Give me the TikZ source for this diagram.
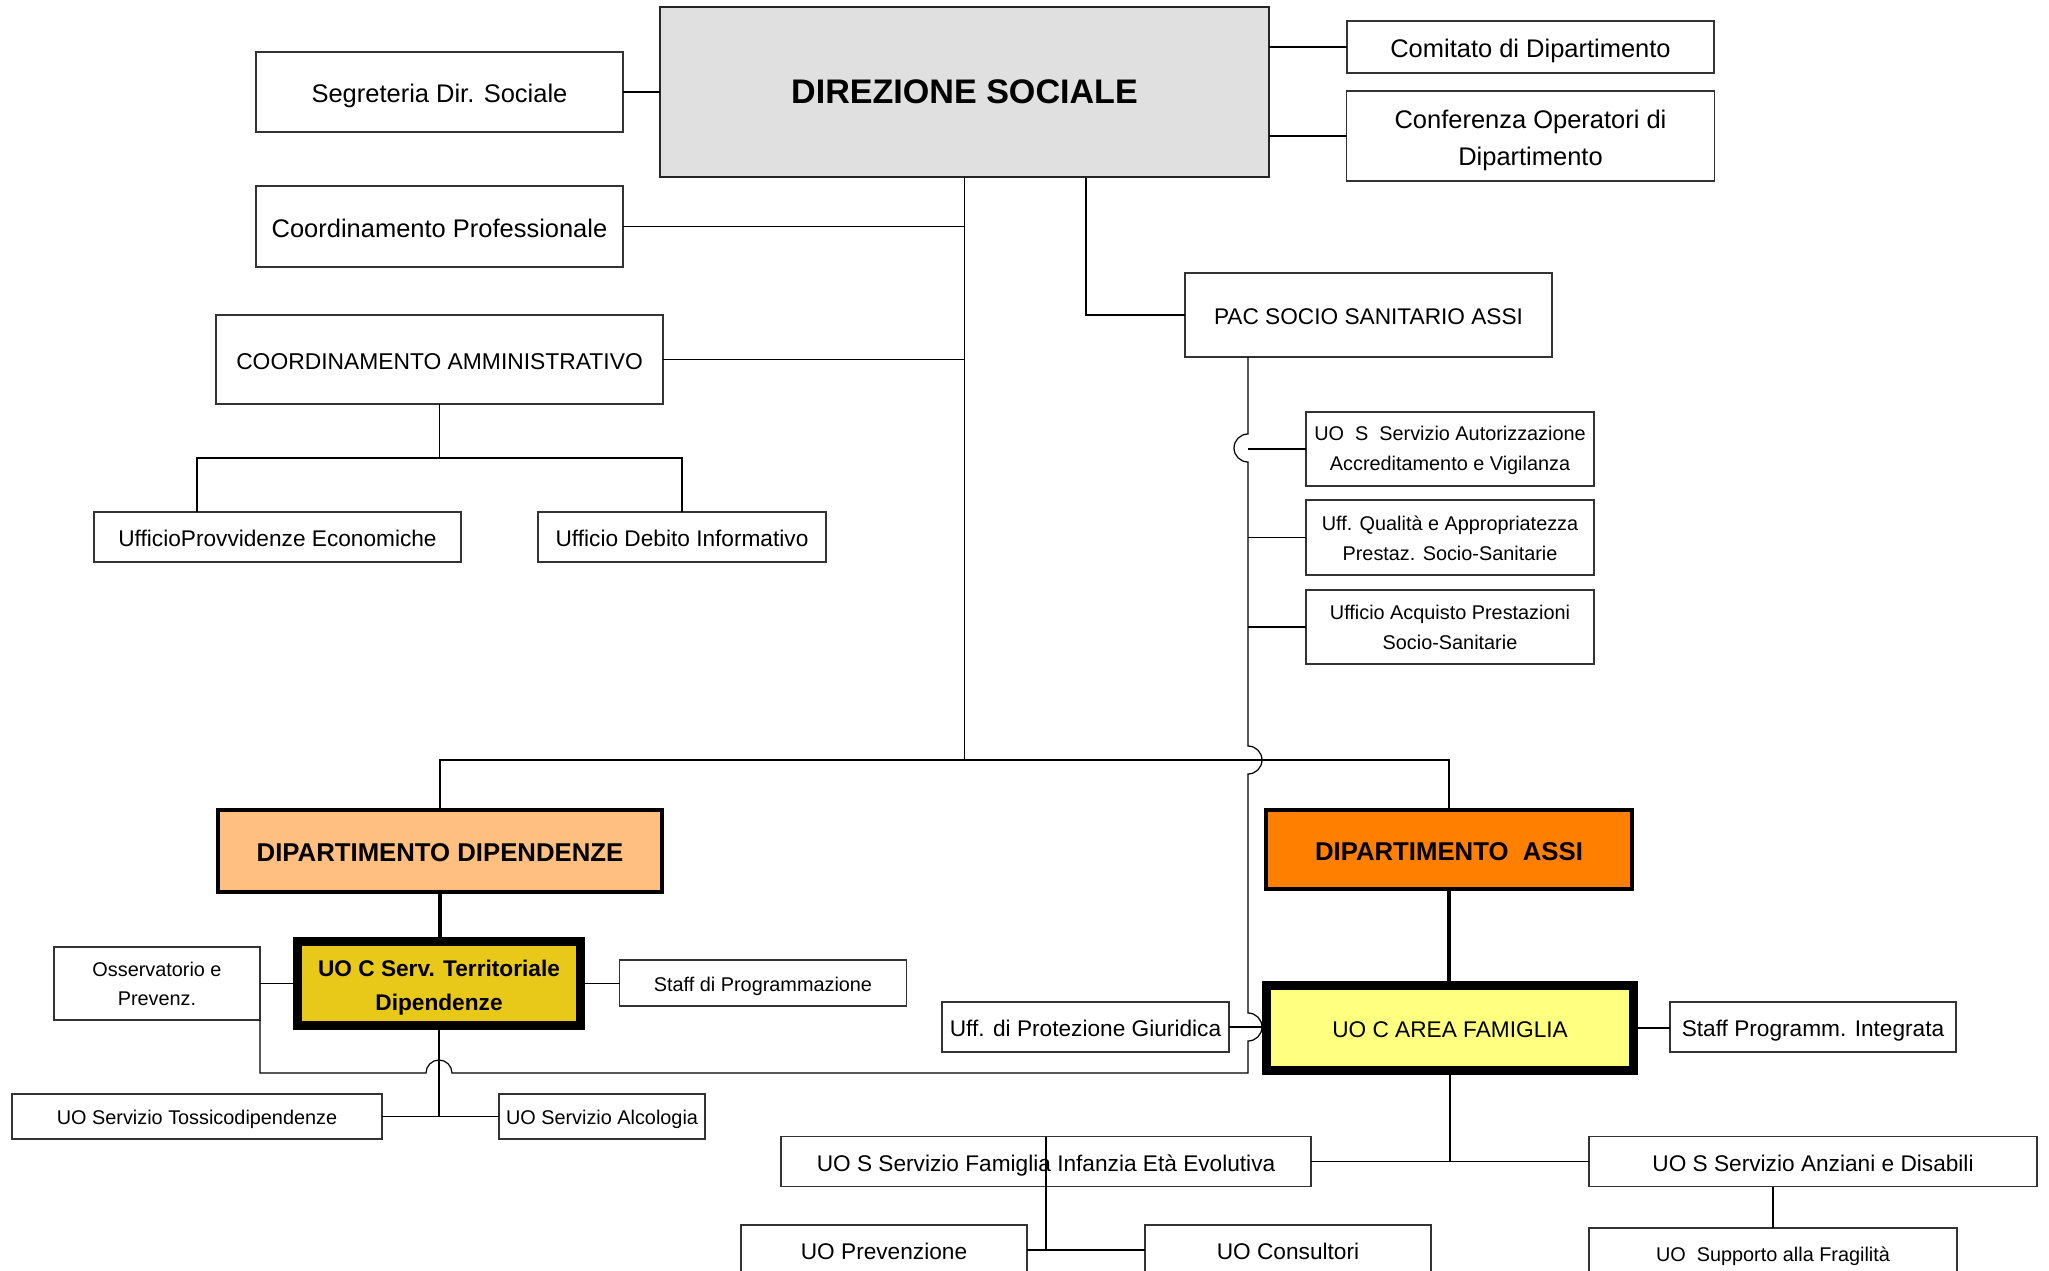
\documentclass[tikz,border=0pt]{standalone}
\usepackage{fontspec}
\setmainfont{Liberation Sans}
\usetikzlibrary{positioning}
\definecolor{dirgray}{RGB}{224,224,224}
\definecolor{dipdipfill}{RGB}{255,191,128}
\definecolor{dipassifill}{RGB}{255,128,0}
\definecolor{uocservfill}{RGB}{232,200,24}
\definecolor{uocfamfill}{RGB}{255,255,128}
\newcommand{\txtL}{\fontsize{14.5}{21}\selectfont}
\newcommand{\txtM}{\fontsize{12.9}{19}\selectfont}
\newcommand{\txtS}{\fontsize{11.3}{17}\selectfont}

\begin{document}
\begin{tikzpicture}[x=0.02cm, y=-0.02cm]
    % Define block styles
    \tikzstyle{block} = [rectangle, draw=black!80, fill=white, line width=0.7pt, inner sep=0pt, outer sep=0pt, align=center]
    \tikzstyle{blockL} = [block, font=\txtL, text height=15.2pt, text depth=2.9pt]
    \tikzstyle{blockM} = [block, font=\txtM, text height=13.5pt, text depth=2.6pt]
    \tikzstyle{blockS} = [block, font=\txtS, text height=11.9pt, text depth=2.3pt]
    \tikzstyle{dept} = [block, draw=black, line width=2.3pt, font=\bfseries\fontsize{14.65}{17}\selectfont, text height=15.4pt, text depth=2.9pt]
    \tikzstyle{unit} = [block, draw=black, line width=5.1pt]
    \tikzstyle{line} = [-, line width=0.7pt]
    \tikzstyle{trunk} = [-, line width=1.8pt]
    \tikzset{boxsize/.style 2 args={minimum width=#1*0.02cm, minimum height=#2*0.02cm}}
    \useasboundingbox (0,0) rectangle (2049,1271);
    \clip (0,0) rectangle (2049,1271);

    % Blocks and nodes
    \node [block, boxsize={609}{170}, fill=dirgray, draw=black!85, font=\bfseries\fontsize{19.4}{24}\selectfont] (dir) at (964.5,92) {DIREZIONE SOCIALE};
    \node [blockL, boxsize={367}{80}] (segr) at (439.5,92) {Segreteria Dir. Sociale};
    \node [blockL, boxsize={367}{81}] (coordprof) at (439.5,226.5) {Coordinamento Professionale};
    \node [blockM, boxsize={447}{89}, font=\fontsize{13}{15}\selectfont] (coordamm) at (439.5,359.5) {COORDINAMENTO AMMINISTRATIVO};
    \node [blockM, boxsize={367}{50}] (provv) at (277.5,537) {UfficioProvvidenze Economiche};
    \node [blockM, boxsize={288}{50}] (debito) at (682,537) {Ufficio Debito Informativo};
    \node [blockL, boxsize={367}{52}] (comitato) at (1530.5,47) {Comitato di Dipartimento};
    \node [block, boxsize={368}{90}, font=\txtL, below=0.36cm of comitato] (conferenza) {\rule{0pt}{15.2pt}Conferenza Operatori di\\Dipartimento};
    \node [blockM, boxsize={367}{84}] (pac) at (1368.5,315) {PAC SOCIO SANITARIO ASSI};
    \node [block, boxsize={288}{74}, font=\txtS] (autoriz) at (1450,449) {\rule{0pt}{9.7pt}UO\ \ S\ \ Servizio Autorizzazione\\Accreditamento e Vigilanza};
    \node [block, boxsize={288}{75}, font=\txtS, below=0.28cm of autoriz] (qualita) {\rule{0pt}{9.7pt}Uff. Qualità e Appropriatezza\\Prestaz. Socio-Sanitarie};
    \node [block, boxsize={288}{74}, font=\txtS, below=0.3cm of qualita] (acquisto) {Ufficio Acquisto Prestazioni\\Socio-Sanitarie};

    \node [dept, boxsize={444}{82}, fill=dipdipfill] (dipdip) at (440,851) {DIPARTIMENTO DIPENDENZE};
    \node [dept, boxsize={366}{79}, fill=dipassifill] (dipassi) at (1449,849.5) {DIPARTIMENTO\ \ ASSI};
    \node [unit, boxsize={283}{84}, fill=uocservfill, font=\bfseries\fontsize{12.9}{19.3}\selectfont] (uocserv) at (439,983.5) {\rule{0pt}{14pt}UO C Serv. Territoriale\\Dipendenze};
    \node [block, boxsize={206}{73}, font=\fontsize{11.3}{16.4}\selectfont] (osserv) at (157,983.5) {Osservatorio e\\Prevenz.};
    \node [blockS, boxsize={287}{46}] (staffprog) at (763,983) {Staff di Programmazione};
    \node [blockS, boxsize={370}{45}] (tossico) at (197,1116.5) {UO Servizio Tossicodipendenze};
    \node [blockS, boxsize={206}{45}] (alcol) at (602,1116.5) {UO Servizio Alcologia};
    \node [blockM, boxsize={287}{50}] (protez) at (1085.5,1027) {Uff. di Protezione Giuridica};
    \node [unit, boxsize={367}{85}, fill=uocfamfill, font=\txtM, text height=13.5pt, text depth=2.6pt] (uocfam) at (1450,1028) {UO C AREA FAMIGLIA};
    \node [blockM, boxsize={286}{50}] (staffint) at (1813,1027) {Staff Programm. Integrata};
    \node [blockM, boxsize={530}{50}] (famiglia) at (1046,1161.5) {UO S Servizio Famiglia Infanzia Età Evolutiva};
    \node [blockM, boxsize={448}{50}] (anziani) at (1813,1161.5) {UO S Servizio Anziani e Disabili};
    \node [blockM, boxsize={286}{50}] (prevenz) at (884,1250) {UO Prevenzione};
    \node [blockM, boxsize={286}{50}] (consult) at (1288,1250) {UO Consultori};
    \node [blockS, boxsize={368}{50}] (fragil) at (1773,1253) {UO\ \ Supporto alla Fragilità};

    \coordinate (hub) at (964.5,760);
    \coordinate (pactap) at (1086,178);
    \coordinate (pactrunk) at (1248,357);
    \coordinate (ammbus) at (439.5,458);
    \coordinate (provvtap) at (197,512);

    % Connections
    \draw[line] (segr.east) -- (segr.east -| dir.west);
    \draw[line] (comitato.west) -- (comitato.west -| dir.east);
    \draw[line] (conferenza.west) -- (conferenza.west -| dir.east);
    \draw[line] (dir.south) -- (hub);
    \draw[line] (coordprof.east) -- (coordprof.east -| hub);
    \draw[line] (coordamm.east) -- (coordamm.east -| hub);
    \draw[line] (pactap) |- (pac.west);
    \draw[line] (coordamm.south) -- (ammbus);
    \draw[line] (provvtap) |- (ammbus) -| (debito.north);
    \draw[line] (dipdip.north) |- (hub) -| (dipassi.north);
    \draw[trunk] (dipdip.south) -- (dipdip.south |- uocserv.north);
    \draw[trunk] (dipassi.south) -- (dipassi.south |- uocfam.north);
    \draw[line] (osserv.east) -- (uocserv.west);
    \draw[line] (uocserv.east) -- (uocserv.east -| staffprog.west);
    \draw[line] (uocserv.south) -- (uocserv.south |- tossico.east);
    \draw[line] (tossico.east) -- (alcol.west);
    \draw[line] (protez.east) -- (protez.east -| uocfam.west);
    \draw[line] (uocfam.east) -- (uocfam.east -| staffint.west);
    \draw[line] (uocfam.south) -- (uocfam.south |- anziani.west);
    \draw[line] (famiglia.east) -- (anziani.west);
    \draw[line] (famiglia.north) -- (famiglia.north |- prevenz.east);
    \draw[line] (prevenz.east) -- (consult.west);
    \draw[line] (fragil.north) -- (fragil.north |- anziani.south);

    % PAC branch, with line hops
    \draw[line] (autoriz.west) -- (autoriz.west -| pactrunk);
    \draw[line] (qualita.west) -- (qualita.west -| pactrunk);
    \draw[line] (acquisto.west) -- (acquisto.west -| pactrunk);
    \draw[line] (pactrunk) -- (1248,434) arc[start angle=-90, end angle=-270, radius=14]
        -- (1248,746) arc[start angle=-90, end angle=90, radius=14]
        -- (1248,1013) arc[start angle=-90, end angle=90, radius=14]
        -- (1248,1073) -- (452,1073) arc[start angle=0, end angle=-180, radius=13]
        -| (osserv.south east);
\end{tikzpicture}
\end{document}
